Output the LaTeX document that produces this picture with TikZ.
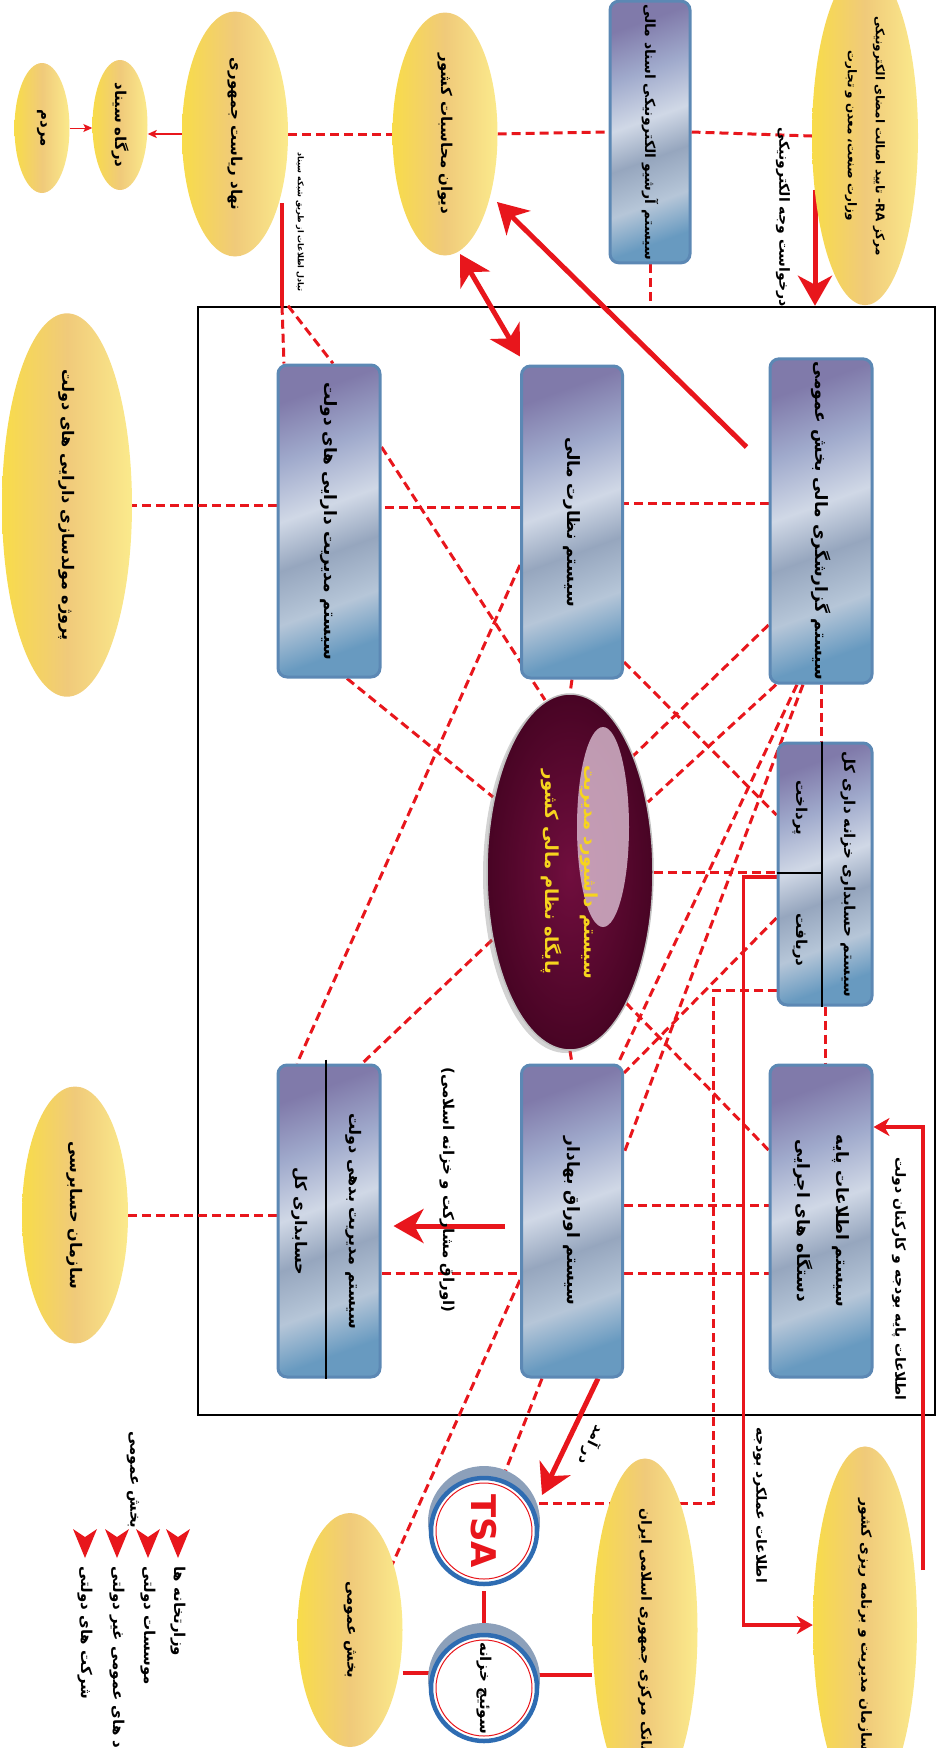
\documentclass[tikz,border=0pt]{standalone}
\usepackage{fontspec}
\usetikzlibrary{shapes.geometric,arrows.meta,calc,shadows}
\newfontfamily\fa[Script=Arabic]{DejaVu Sans}
\TeXXeTstate=1
\newcommand{\rtl}[1]{\beginR #1\endR}

\definecolor{linkred}{RGB}{232,22,28}
\definecolor{rimblue}{RGB}{92,136,180}
\definecolor{mbA}{RGB}{128,122,170}
\definecolor{mbB}{RGB}{160,170,204}
\definecolor{mbC}{RGB}{208,216,230}
\definecolor{mbD}{RGB}{150,166,190}
\definecolor{mbE}{RGB}{182,198,216}
\definecolor{mbF}{RGB}{104,154,192}
\definecolor{ellL}{RGB}{248,220,74}
\definecolor{ellM}{RGB}{240,202,122}
\definecolor{ellR}{RGB}{251,234,140}
\definecolor{ovalIn}{RGB}{112,14,62}
\definecolor{ovalOut}{RGB}{72,4,36}
\definecolor{ovalGlow}{RGB}{220,192,212}
\definecolor{ovalText}{RGB}{246,212,30}
\definecolor{tsablue}{RGB}{46,108,178}
\definecolor{tsarim}{RGB}{140,160,186}

\pgfdeclarehorizontalshading{metalbox}{100bp}{color(0bp)=(mbA); color(25bp)=(mbA); color(36bp)=(mbB); color(47bp)=(mbC); color(56bp)=(mbD); color(66bp)=(mbE); color(75bp)=(mbF); color(100bp)=(mbF)}

\pgfdeclarelayer{links}
\pgfsetlayers{links,main}

\tikzset{
  sysbox/.style={rotate=-90, rounded corners=9pt, draw=rimblue, line width=3pt,
    shade, shading=metalbox, shading angle=-70, minimum width=312pt, minimum height=102pt, inner sep=3pt,
    align=center, font=\fa\bfseries\fontsize{17}{39}\selectfont},
  goldell/.style={ellipse, rotate=-90, inner sep=0pt, left color=ellL, right color=ellR,
    middle color=ellM, align=center, font=\fa\bfseries\fontsize{15}{30}\selectfont},
  boxlabel/.style={rotate=-90, inner sep=0pt, font=\fa\bfseries\fontsize{15}{18}\selectfont},
  linklabel/.style={rotate=-90, inner sep=0pt, font=\fa\bfseries\fontsize{14}{17}\selectfont},
  legitem/.style={rotate=-90, anchor=west, inner sep=0pt, font=\fa\bfseries\fontsize{15}{18}\selectfont},
  ovalbody/.style={ellipse, rotate=-90, minimum width=356pt, minimum height=166pt,
    inner color=ovalIn, outer color=ovalOut, draw=gray!50, line width=1.5pt,
    drop shadow={opacity=0.35, shadow xshift=-4pt, shadow yshift=-3pt}},
  ovaltitle/.style={rotate=-90, align=center, text=ovalText,
    font=\fa\bfseries\fontsize{18}{39}\selectfont},
  tsacirc/.style={circle, rotate=-90, minimum size=106pt, inner sep=0pt,
    draw=tsablue, line width=4.5pt, fill=white},
  frame/.style={draw=black, line width=2.5pt, minimum width=737pt, minimum height=1108pt, inner sep=0pt},
  dashlink/.style={draw=linkred, line width=3pt, dash pattern=on 9pt off 5pt},
  solidlink/.style={draw=linkred, line width=3.5pt},
  bigtip/.tip={Stealth[length=30pt,width=34pt,inset=9pt]},
  midtip/.tip={Stealth[length=16pt,width=18pt,inset=5pt]},
  smalltip/.tip={Stealth[length=9pt,width=8pt,inset=2pt]},
  bigarrow/.style={draw=linkred, line width=5pt, -bigtip},
}

\begin{document}
\begin{tikzpicture}[x=1pt,y=-1pt]
\useasboundingbox (0,0) rectangle (942,1748);

% outside, top row
\node[goldell, minimum width=245pt, minimum height=106pt, font=\fa\bfseries\fontsize{12}{28}\selectfont] (ra) at (865,136)
  {\rtl{مرکز \beginL RA\endL- تایید اصالت امضای الکترونیکی}\\\rtl{وزارت صنعت، معدن و تجارت}};
\node[sysbox, minimum width=241pt, minimum height=80pt, font=\fa\bfseries\fontsize{14}{17}\selectfont] (arch) at (650,132)
  {\rtl{سیستم آرشیو الکترونیکی اسناد مالی}};
\node[goldell, minimum width=243pt, minimum height=105pt] (divan) at (445,134) {\rtl{دیوان محاسبات کشور}};
\node[goldell, minimum width=245pt, minimum height=106pt] (nahad) at (235,134) {\rtl{نهاد ریاست جمهوری}};
\node[goldell, minimum width=130pt, minimum height=55pt] (dargah) at (120,125) {\rtl{درگاه سیناد}};
\node[goldell, minimum width=130pt, minimum height=55pt] (mardom) at (42,128) {\rtl{مردم}};

% inside the frame
\node[sysbox] (rep) at (821,521) {\rtl{سیستم گزارشگری مالی بخش عمومی}};
\node[sysbox, minimum height=101pt] (sup) at (572,522) {\rtl{سیستم نظارت مالی}};
\node[sysbox] (asset) at (329,521) {\rtl{سیستم مدیریت دارایی های دولت}};
\node[sysbox, minimum width=262pt, minimum height=94pt] (tre) at (825,874) {};
\draw[black, line width=1.5pt] (tre.west -| 822,0) -- (tre.east -| 822,0)
  (tre.south |- 0,873) -- (822,873);
\node[boxlabel] (trename) at (848,874) {\rtl{سیستم حسابداری خزانه داری کل}};
\node[boxlabel] (pay) at (800,808) {\rtl{پرداخت}};
\node[boxlabel] (receive) at (800,940) {\rtl{دریافت}};
\node[sysbox] (base) at (821,1221) {\rtl{سیستم اطلاعات پایه}\\\rtl{دستگاه های اجرایی}};
\node[sysbox, minimum height=101pt] (bond) at (572,1221) {\rtl{سیستم اوراق بهادار}};
\node[sysbox] (debt) at (329,1221) {};
\draw[black, line width=1.5pt] ($(debt.west -| 326,0)+(0,-4)$) -- (debt.east -| 326,0);
\node[boxlabel, font=\fa\bfseries\fontsize{16}{19}\selectfont] (debtname) at (354,1221) {\rtl{سیستم مدیریت بدهی دولت}};
\node[boxlabel, font=\fa\bfseries\fontsize{16}{19}\selectfont] (ledger) at (300,1221) {\rtl{حسابداری کل}};

% dashboard oval
\node[ovalbody] (oval) at (570,872) {};
\fill[ovalGlow, opacity=0.8] ($(oval)+(33,-45)$) ellipse [x radius=26pt, y radius=100pt];
\node[ovaltitle] (ovaltext) at (oval) {\rtl{سیستم داشبورد مدیریت}\\\rtl{پایگاه نظام مالی کشور}};

% outside, sides and bottom
\node[goldell, minimum width=305pt, minimum height=130pt, font=\fa\bfseries\fontsize{16}{19}\selectfont] (proj) at (67,505) {\rtl{پروژه مولدسازی دارایی های دولت}};
\node[goldell, minimum width=257pt, minimum height=106pt, font=\fa\bfseries\fontsize{16}{19}\selectfont] (hesab) at (75,1215) {\rtl{سازمان حسابرسی}};
\node[goldell, minimum width=244pt, minimum height=104pt, font=\fa\bfseries\fontsize{14}{17}\selectfont] (smb) at (865,1625) {\rtl{سازمان مدیریت و برنامه ریزی کشور}};
\node[goldell, minimum width=234pt, minimum height=105pt, font=\fa\bfseries\fontsize{14}{17}\selectfont] (bank) at (645,1630) {\rtl{بانک مرکزی جمهوری اسلامی ایران}};
\node[goldell, minimum width=234pt, minimum height=105pt] (bakhsh) at (350,1630) {\rtl{بخش عمومی}};
\fill[tsarim] (484,1522) circle (56pt);
\node[tsacirc, text=linkred, font=\fa\bfseries\fontsize{34}{34}\selectfont] (tsa) at (484,1531) {TSA};
\draw[linkred, line width=1pt] (tsa) circle (48pt);
\fill[tsarim] (484,1679) circle (56pt);
\node[tsacirc, font=\fa\bfseries\fontsize{15}{18}\selectfont] (sowich) at (484,1688) {\rtl{سوئیچ خزانه}};
\draw[linkred, line width=1pt] (sowich) circle (48pt);

% link labels
\node[linklabel] (reqlabel) at (783,217) {\rtl{درخواست وجه الکترونیکی}};
\node[linklabel, font=\fa\bfseries\fontsize{8}{10}\selectfont] (sinadlabel) at (300,222) {\rtl{تبادل اطلاعات از طریق شبکه سیناد}};
\node[linklabel] (baselabel) at (899,1279) {\rtl{اطلاعات پایه بودجه و کارکنان دولت}};
\node[linklabel] (perflabel) at (760,1505) {\rtl{اطلاعات عملکرد بودجه}};
\node[linklabel, font=\fa\bfseries\fontsize{15}{18}\selectfont] (bondlabel) at (447,1190) {\rtl{(اوراق مشارکت و خزانه اسلامی)}};
\node[linklabel, rotate=-26] (incomelabel) at (592,1445) {\rtl{در آمد}};

% legend
\node[legitem, anchor=center] (legtitle) at (133,1480) {\rtl{بخش عمومی}};
\foreach \bx/\nm/\txt in {178/ministries/وزارتخانه ها, 148/agencies/موسسات دولتی,
    117/publics/نهاد های عمومی غیر دولتی, 85/firms/شرکت های دولتی}{
  \fill[linkred] (\bx-12,1529) -- (\bx,1537) -- (\bx+12,1529) -- (\bx,1558) -- cycle;
  \node[legitem] (\nm) at (\bx,1566) {\rtl{\txt}};
}

\begin{pgfonlayer}{links}
\node[frame] (frame) at (566.5,861) {};
% top row links
\draw[dashlink] (nahad.north) -- (divan.south);
\draw[dashlink] (divan.north) -- (arch.south);
\draw[dashlink] (arch.north) -- (ra.south);
\draw[dashlink] (arch.east) -- (arch.east |- frame.north);
\draw[solidlink, line width=1.5pt, -smalltip] (nahad.south) -- (nahad.south -| dargah.north);
\draw[solidlink, line width=1pt, -smalltip] (mardom.north) -- (mardom.north -| dargah.south);
\draw[solidlink, line width=4pt] ($(nahad)+(47,69)$) -- (frame.north -| 282,0) coordinate (sinad);
\draw[dashlink] (sinad) -- (asset.west -| 284,0);
\draw[dashlink] ($(sinad)+(6,0)$) -- (asset.west -| 333,0);
\draw[bigarrow] ($(ra)+(-50,54)$) -- (frame.north -| 815,0);
\draw[bigarrow] ($(rep.south |- 0,447)+(-22,0)$) -- ($(divan)+(52,68)$);
\draw[bigarrow, bigtip-bigtip] ($(divan)+(15,120)$) -- ($(sup.south west)+(0,-8)$);
% first row of systems
\draw[dashlink] (rep.south |- 0,503) -- (sup.north |- 0,503);
\draw[dashlink] (sup.south |- 0,507) -- (asset.north |- 0,507);
\draw[dashlink] (asset.south |- proj.north) -- (proj.north);
\draw[dashlink] (asset.north |- 0,447) -- ($(oval)+(-25,-172)$);
\draw[dashlink] (asset.east -| 347,0) -- ($(oval)+(-77,-75)$);
\draw[dashlink] (sup.south |- 0,565) -- (debt.west -| 297,0);
\draw[dashlink] (sup.east) -- (oval.west);
\draw[dashlink] (sup.north |- 0,662) -- (tre.south |- 0,815);
\draw[dashlink] (rep.south |- 0,625) -- ($(oval)+(62,-115)$);
\draw[dashlink] (rep.east -| 776,0) -- ($(oval)+(78,-70)$);
\draw[dashlink] (rep.east -| 797,0) -- (bond.west -| 618,0);
\draw[dashlink] (rep.east -| 803,0) -- (bond.north |- 0,1153);
\draw[dashlink] (rep.east) -- (rep.east |- tre.west);
% treasury and oval
\draw[dashlink] (oval.north) -- (oval.north -| tre.south);
\draw[dashlink] (tre.south |- 0,918) -- (bond.north |- 0,1073);
\draw[dashlink] (tre.east) -- (tre.east |- base.west);
\draw[dashlink] ($(oval)+(56,131)$) -- (base.south |- 0,1150);
\draw[dashlink] ($(oval)+(-78,68)$) -- (debt.west -| 362,0);
\draw[dashlink] (oval.east) -- (bond.west);
\draw[solidlink, -midtip] (tre.south |- 0,877) -- ++(-33,0) |- (smb.south);
\draw[dashlink] (tre.south |- 0,990) -- ++(-63,0) |- ($(tsa)+(52,-28)$);
% second row of systems
\draw[dashlink] (bond.north |- 0,1205) -- (base.south |- 0,1205);
\draw[dashlink] (bond.north |- 0,1273) -- (base.south |- 0,1273);
\draw[dashlink] (debt.north |- 0,1273) -- (bond.south |- 0,1273);
\draw[dashlink] (hesab.north) -- (hesab.north -| debt.south);
\draw[bigarrow] ($(bond.south |- 0,1226)+(-15,0)$) -- ($(debt.north |- 0,1226)+(12,0)$);
\draw[solidlink, -midtip] ($(smb)+(58,-55)$) |- (base.north |- 0,1127);
% bottom links
\draw[bigarrow] (bond.east -| 598,0) -- ($(tsa)+(58,-36)$);
\draw[dashlink] (bond.east -| 542,0) -- ($(tsa)+(19,-54)$);
\draw[dashlink] (bond.south |- 0,1280) -- ($(bakhsh)+(42,-65)$);
\draw[solidlink, line width=4pt, shorten <=5pt, shorten >=10pt] (tsa.east) -- (sowich.west);
\draw[solidlink, line width=4pt] (sowich.north |- 0,1675) -- (bank.south |- 0,1675);
\draw[solidlink, line width=4pt] (bakhsh.north |- 0,1673) -- (sowich.south |- 0,1673);
\end{pgfonlayer}
\end{tikzpicture}
\end{document}
